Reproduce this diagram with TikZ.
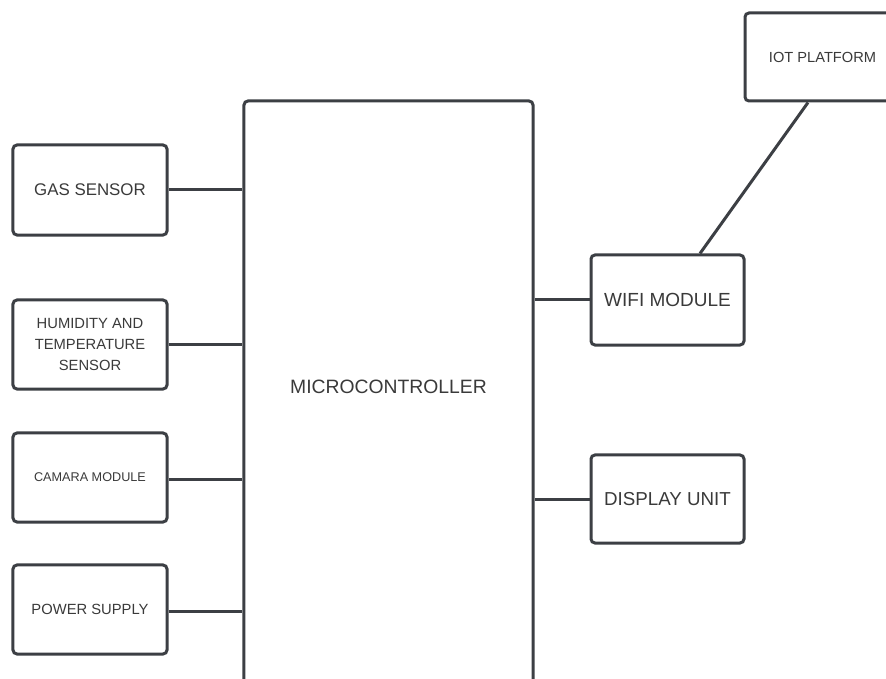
\documentclass[tikz,border=0pt]{standalone}
\usepackage{fontspec}
\setmainfont{Liberation Sans}
\usetikzlibrary{positioning,calc}
\definecolor{Edge}{HTML}{3C3F44}
\definecolor{Label}{HTML}{3A3A3A}
\tikzset{
  blockbox/.style={draw=Edge,line width=0.09cm,rounded corners=0.12cm,fill=white,
    text=Label,align=center,inner sep=0pt},
  wire/.style={draw=Edge,line width=0.09cm}
}
\newcommand{\BlockFont}[1]{\fontsize{#1}{1.25\dimexpr#1\relax}\selectfont}

\begin{document}
\begin{tikzpicture}[x=0.03cm,y=-0.03cm]
\clip (0,0) rectangle (886,679);
\fill[white] (0,0) rectangle (886,679);
% centre block, open at the bottom
\node[blockbox,minimum width=8.67cm,minimum height=17.97cm] (mcu) at (388.5,400.5) {};
\node[text=Label,font=\BlockFont{16.5pt}] (mcutext) at (388.5,387) {MICROCONTROLLER};
% inputs
\node[blockbox,minimum width=4.62cm,minimum height=2.7cm,font=\BlockFont{14.4pt}] (gas) at (90,190) {GAS SENSOR};
\node[blockbox,minimum width=4.62cm,minimum height=2.67cm,font={\fontsize{12.6pt}{18pt}\selectfont}] (hum) at (90,344.5) {HUMIDITY AND\\TEMPERATURE\\SENSOR};
\node[blockbox,minimum width=4.62cm,minimum height=2.67cm,font=\BlockFont{10.8pt}] (cam) at (90,477.5) {CAMARA MODULE};
\node[blockbox,minimum width=4.62cm,minimum height=2.67cm,font=\BlockFont{12.6pt}] (pwr) at (90,609.5) {POWER SUPPLY};
% outputs
\node[blockbox,minimum width=4.59cm,minimum height=2.7cm,font=\BlockFont{16.2pt}] (wifi) at (667.5,300) {WIFI MODULE};
\node[blockbox,minimum width=4.59cm,minimum height=2.64cm,font=\BlockFont{16pt}] (disp) at (667.5,499) {DISPLAY UNIT};
\node[blockbox,minimum width=4.65cm,minimum height=2.64cm,font=\BlockFont{12.5pt}] (iot) at (822.5,57) {IOT PLATFORM};
% links
\draw[wire] (gas.east) -- (gas.east -| mcu.west);
\draw[wire] (hum.east) -- (hum.east -| mcu.west);
\draw[wire] ([yshift=-0.05cm]cam.east) -- ([yshift=-0.05cm]cam.east -| mcu.west);
\draw[wire] ([yshift=-0.05cm]pwr.east) -- ([yshift=-0.05cm]pwr.east -| mcu.west);
\draw[wire] (wifi.west) -- (wifi.west -| mcu.east);
\draw[wire] (disp.west) -- (disp.west -| mcu.east);
\draw[wire] ($(wifi.north)+(32.5,0)$) -- ($(iot.south)+(-14.5,0)$);
\end{tikzpicture}
\end{document}
